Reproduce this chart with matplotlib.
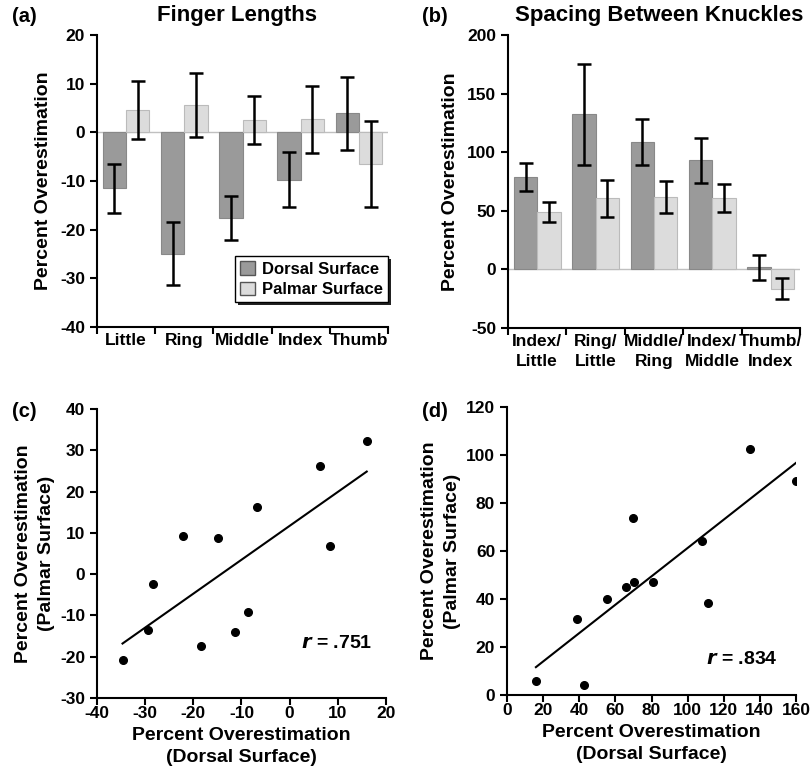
import numpy as np
import matplotlib
matplotlib.use('Agg')
import matplotlib.pyplot as plt
from matplotlib.patches import Patch

plt.rcParams['font.family'] = ['Liberation Sans', 'DejaVu Sans']
plt.rcParams['font.weight'] = 'bold'
plt.rcParams['axes.unicode_minus'] = False

# (a) Finger lengths
fingers = ['Little', 'Ring', 'Middle', 'Index', 'Thumb']
a_dorsal = [-11.5, -24.9, -17.6, -9.7, 3.9]
a_dorsal_err = [5.0, 6.4, 4.5, 5.6, 7.5]
a_palmar = [4.6, 5.6, 2.5, 2.7, -6.5]
a_palmar_err = [6.0, 6.5, 4.9, 6.9, 8.8]

# (b) Spacing between knuckles
spacings = ['Index/\nLittle', 'Ring/\nLittle', 'Middle/\nRing', 'Index/\nMiddle', 'Thumb/\nIndex']
b_dorsal = [79.0, 132.5, 108.7, 93.0, 1.8]
b_dorsal_err = [12.0, 43.0, 19.7, 19.2, 10.5]
b_palmar = [48.9, 60.5, 61.8, 60.6, -16.3]
b_palmar_err = [8.6, 16.0, 13.8, 12.0, 8.8]

# (c) scatter, finger lengths
c_x = [-34.7, -29.4, -28.3, -22.1, -18.5, -14.8, -11.4, -8.6, -6.8, 6.3, 8.4, 16.0]
c_y = [-20.7, -13.6, -2.4, 9.2, -17.5, 8.8, -14.0, -9.2, 16.3, 26.3, 6.8, 32.2]

# (d) scatter, knuckle spacing
d_x = [16.0, 38.7, 42.9, 55.5, 66.0, 69.5, 70.2, 80.7, 107.8, 111.2, 134.7, 160.0]
d_y = [6.0, 31.5, 4.2, 40.0, 44.9, 73.6, 47.2, 47.2, 64.3, 38.5, 102.7, 89.1]

dorsal_col = '#9a9a9a'
palmar_col = '#dcdcdc'
TICK = 12.5

W, H = 810, 774
fig = plt.figure(figsize=(W / 100, H / 100), dpi=100)

def box(l, t, r, b):
    return [l / W, 1 - b / H, (r - l) / W, (b - t) / H]

def style(ax):
    ax.spines['top'].set_visible(False)
    ax.spines['right'].set_visible(False)
    for s in ['left', 'bottom']:
        ax.spines[s].set_linewidth(1.5)
    ax.tick_params(width=1.5, length=5, labelsize=TICK)
    plt.setp(ax.get_xticklabels(which='both') + ax.get_yticklabels(), fontweight='bold')

def bars(ax, labels, dv, de, pv, pe):
    x = np.arange(len(labels))
    w = 0.4
    ax.axhline(0, color='#c0c0c0', lw=1, zorder=1)
    ax.bar(x - w / 2, dv, w, color=dorsal_col, edgecolor='#888888', lw=0.8, zorder=2)
    ax.bar(x + w / 2, pv, w, color=palmar_col, edgecolor='#bbbbbb', lw=0.8, zorder=2)
    ax.errorbar(x - w / 2, dv, yerr=de, fmt='none', ecolor='black', elinewidth=1.8, capsize=5, capthick=1.8, zorder=3)
    ax.errorbar(x + w / 2, pv, yerr=pe, fmt='none', ecolor='black', elinewidth=1.8, capsize=5, capthick=1.8, zorder=3)
    ax.set_xlim(-0.5, len(labels) - 0.5)
    ax.set_xticks(np.arange(len(labels) + 1) - 0.5)
    ax.set_xticklabels([])
    ax.set_xticks(x, minor=True)
    ax.set_xticklabels(labels, minor=True, fontsize=TICK, fontweight='bold', linespacing=1.45)
    ax.tick_params(axis='x', which='minor', length=0, pad=4)
    ax.set_ylabel('Percent Overestimation', fontsize=14, fontweight='bold', labelpad=6)

# panel a
ax1 = fig.add_axes(box(97, 35, 388, 327))
bars(ax1, fingers, a_dorsal, a_dorsal_err, a_palmar, a_palmar_err)
ax1.set_ylim(-40, 20)
ax1.set_yticks(range(-40, 21, 10))
style(ax1)
leg = ax1.legend(handles=[Patch(facecolor=dorsal_col, edgecolor='#555555', label='Dorsal Surface'),
                          Patch(facecolor=palmar_col, edgecolor='#555555', label='Palmar Surface')],
                 loc='lower right', bbox_to_anchor=(1.0, 0.085), fancybox=False,
                 shadow={'facecolor': '#222222', 'edgecolor': 'none', 'alpha': 1},
                 prop={'weight': 'bold', 'size': 12}, handlelength=0.9, handleheight=0.9,
                 handletextpad=0.4, borderpad=0.3, labelspacing=0.3, framealpha=1, borderaxespad=0)
leg.get_frame().set_edgecolor('black')
leg.get_frame().set_linewidth(1.0)
fig.text(237 / W, 1 - 15 / H, 'Finger Lengths', fontsize=16, fontweight='bold', va='center', ha='center')
fig.text(12 / W, 1 - 16 / H, '(a)', fontsize=14.5, fontweight='bold', va='center')

# panel b
ax2 = fig.add_axes(box(508, 35, 800, 328))
bars(ax2, spacings, b_dorsal, b_dorsal_err, b_palmar, b_palmar_err)
ax2.set_ylim(-50, 200)
ax2.set_yticks(range(-50, 201, 50))
style(ax2)
fig.text(659 / W, 1 - 15 / H, 'Spacing Between Knuckles', fontsize=16, fontweight='bold', va='center', ha='center')
fig.text(422 / W, 1 - 16 / H, '(b)', fontsize=14.5, fontweight='bold', va='center')

def scatter(ax, x, y, rtxt, rpos):
    x = np.array(x)
    y = np.array(y)
    ax.plot(x, y, 'o', color='black', ms=5.5, zorder=3)
    k, b = np.polyfit(x, y, 1)
    xl = np.array([x.min(), x.max()])
    ax.plot(xl, k * xl + b, color='black', lw=1.5, zorder=2)
    ax.text(rpos[0], rpos[1], rtxt, transform=ax.transAxes, fontsize=14, fontweight='bold', va='center')
    ax.set_xlabel('Percent Overestimation\n(Dorsal Surface)', fontsize=14, fontweight='bold', labelpad=4, linespacing=1.4)
    ax.set_ylabel('Percent Overestimation\n(Palmar Surface)', fontsize=14, fontweight='bold', labelpad=4, linespacing=1.4)

# panel c
ax3 = fig.add_axes(box(97, 409, 386, 698))
scatter(ax3, c_x, c_y, r'$\mathbfit{r}$ = .751', (0.705, 0.19))
ax3.set_xlim(-40, 20)
ax3.set_xticks(range(-40, 21, 10))
ax3.set_ylim(-30, 40)
ax3.set_yticks(range(-30, 41, 10))
style(ax3)
ax3.tick_params(axis='x', pad=1)
fig.text(12 / W, 1 - 411 / H, '(c)', fontsize=14.5, fontweight='bold', va='center')

# panel d
ax4 = fig.add_axes(box(507, 407, 796, 695))
scatter(ax4, d_x, d_y, r'$\mathbfit{r}$ = .834', (0.69, 0.125))
ax4.set_xlim(0, 160)
ax4.set_xticks(range(0, 161, 20))
ax4.set_ylim(0, 120)
ax4.set_yticks(range(0, 121, 20))
style(ax4)
ax4.tick_params(axis='x', pad=1)
fig.text(422 / W, 1 - 411 / H, '(d)', fontsize=14.5, fontweight='bold', va='center')

fig.savefig('out.png', dpi=100)
